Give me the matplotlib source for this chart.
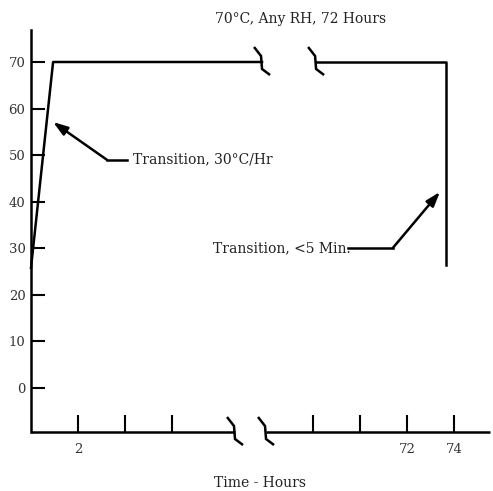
import numpy as np
import matplotlib
matplotlib.use("Agg")
import matplotlib.pyplot as plt

plt.rcParams['font.family'] = ['DejaVu Serif']

# temperature profile (real hours, deg C), split at the time break
seg1_hours = [0, 0.94, 9.83]
seg1_temp = [25.8, 70, 70]
seg2_hours = [68.13, 73.66, 73.66]
seg2_temp = [70, 70, 26.4]

# axis ticks (real hours)
xtick_hours = [2, 4, 6, 68, 70, 72, 74]
xtick_labels = ['2', '', '', '', '', '72', '74']
ytick_vals = [0, 10, 20, 30, 40, 50, 60, 70]

# hours after the break are shifted back by this amount
BREAK_AT = 10
SHIFT = 56

def to_axis(h):
    h = np.asarray(h, dtype=float)
    return np.where(h < BREAK_AT, h, h - SHIFT)

# pixel -> data scale (used only for break marks)
PX_X = 23.5
PX_Y = 4.657
zig_px = np.array([(-8, -15), (-1, -6), (0, 7), (8, 13)])

def zigzag(ax, x0, y0):
    xs = x0 + zig_px[:, 0] / PX_X
    ys = y0 - zig_px[:, 1] / PX_Y
    ax.plot(xs, ys, color='black', lw=1.8, clip_on=False,
            solid_capstyle='butt', solid_joinstyle='miter')

fig = plt.figure(figsize=(4.93, 4.91), dpi=100)
ax = fig.add_axes([31 / 493, 59 / 491, 459 / 493, 402 / 491])

XMAX = 19.53
YMIN, YMAX = -9.45, 76.87
ax.set_xlim(0, XMAX)
ax.set_ylim(YMIN, YMAX)

for s in ['top', 'right', 'bottom']:
    ax.spines[s].set_visible(False)
ax.spines['left'].set_linewidth(1.8)

# profile line
ax.plot(to_axis(seg1_hours), seg1_temp, color='black', lw=1.8, clip_on=False)
ax.plot(to_axis(seg2_hours), seg2_temp, color='black', lw=1.8, clip_on=False)
zigzag(ax, to_axis(seg1_hours)[-1], 70)
zigzag(ax, to_axis(seg2_hours)[0], 70)

# broken x axis
ax_break_l, ax_break_r = 8.68, 10.0
ax.plot([0, ax_break_l], [YMIN, YMIN], color='black', lw=1.8, clip_on=False,
        solid_capstyle='butt')
ax.plot([ax_break_r, XMAX], [YMIN, YMIN], color='black', lw=1.8, clip_on=False,
        solid_capstyle='butt')
zigzag(ax, ax_break_l, YMIN)
zigzag(ax, ax_break_r, YMIN)

ax.set_xticks(to_axis(xtick_hours))
ax.set_xticklabels(xtick_labels)
ax.set_yticks(ytick_vals)
ax.tick_params(axis='x', direction='in', length=12, width=1.5, pad=8,
               labelsize=9.5, labelcolor='#333333')
ax.tick_params(axis='y', direction='in', length=10, width=1.5, pad=4,
               labelsize=9.5, labelcolor='#333333')

ax.set_xlabel('Time - Hours', fontsize=10, labelpad=14, color='#222222')

# annotations
ax.text(11.45, 79.2, '70°C, Any RH, 72 Hours', ha='center', va='center',
        fontsize=10, color='#222222', clip_on=False)

ax.plot([3.23, 4.1], [49, 49], color='black', lw=1.8)
ax.annotate('', xy=(0.94, 57.1), xytext=(3.23, 49),
            arrowprops=dict(arrowstyle='-|>,head_length=0.86,head_width=0.29',
                            color='black', lw=1.8, shrinkA=0, shrinkB=0,
                            mutation_scale=10))
ax.text(4.34, 49, 'Transition, 30°C/Hr', ha='left', va='center',
        fontsize=10, color='#222222')

ax.plot([13.5, 15.4], [30.1, 30.1], color='black', lw=1.8)
ax.annotate('', xy=(17.4, 42.1), xytext=(15.4, 30.1),
            arrowprops=dict(arrowstyle='-|>,head_length=0.86,head_width=0.29',
                            color='black', lw=1.8, shrinkA=0, shrinkB=0,
                            mutation_scale=10))
ax.text(13.6, 30.1, 'Transition, <5 Min.', ha='right', va='center',
        fontsize=10, color='#222222')

fig.savefig('out.png', dpi=100)
